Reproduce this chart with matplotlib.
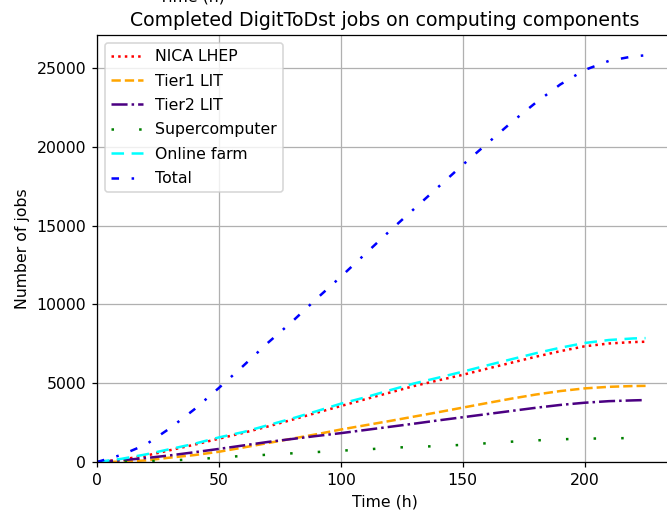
import matplotlib

matplotlib.use("Agg")
import matplotlib.pyplot as plt

# time axis (hours)
hours = [0, 10, 20, 30, 40, 50, 60, 70, 80, 90, 100, 110, 120, 130, 140,
         150, 160, 170, 180, 190, 200, 210, 220, 225]

nica_lhep = [0, 150, 400, 750, 1100, 1480, 1850, 2250, 2680, 3120, 3550, 3980,
             4400, 4820, 5180, 5530, 5920, 6300, 6680, 7030, 7340, 7520, 7610, 7630]
tier1_lit = [0, 20, 100, 280, 440, 650, 920, 1200, 1480, 1760, 2060, 2330,
             2600, 2880, 3160, 3450, 3740, 4020, 4280, 4500, 4670, 4770, 4820, 4830]
tier2_lit = [0, 110, 250, 420, 620, 830, 1050, 1270, 1460, 1650, 1830, 2030,
             2230, 2430, 2640, 2840, 3040, 3240, 3440, 3620, 3760, 3860, 3910, 3930]
supercomputer = [0, 10, 40, 100, 170, 280, 390, 460, 550, 630, 720, 790,
                 900, 960, 1010, 1090, 1190, 1290, 1370, 1440, 1480, 1500, 1520, 1520]
online_farm = [0, 200, 480, 820, 1160, 1560, 1900, 2330, 2760, 3220, 3700, 4100,
               4550, 4980, 5350, 5730, 6130, 6520, 6900, 7250, 7550, 7740, 7840, 7860]
total = [0, 450, 1100, 2150, 3350, 4700, 6100, 7550, 8900, 10350, 11750, 13200,
         14650, 16050, 17450, 18850, 20200, 21550, 22800, 23950, 24870, 25450, 25740, 25800]

series = [
    ("NICA LHEP", nica_lhep, "red", ":"),
    ("Tier1 LIT", tier1_lit, "orange", "--"),
    ("Tier2 LIT", tier2_lit, "indigo", "-."),
    ("Supercomputer", supercomputer, "green", (0, (1, 10))),
    ("Online farm", online_farm, "cyan", (0, (5, 3))),
    ("Total", total, "blue", (0, (3, 5, 1, 5))),
]

fig = plt.figure(figsize=(667 / 113, 510 / 113), dpi=113)
ax = fig.add_axes([97 / 667, 48 / 510, 576 / 667, 427 / 510])

for name, vals, color, ls in series:
    ax.plot(hours, vals, color=color, ls=ls, lw=1.6, label=name)

ax.set_xlim(0, 236.25)
ax.set_ylim(0, 27090)
ax.set_xticks([0, 50, 100, 150, 200])
ax.grid(True)
ax.set_xlabel("Time (h)")
ax.set_ylabel("Number of jobs")
ax.set_title("Completed DigitToDst jobs on computing components")
ax.legend(loc="upper left", labelspacing=0.6)

# xlabel of the panel above, cut off by the crop
fig.text(192 / 667, 1 - 2 / 510, "Time (h)", ha="center", va="baseline")

fig.savefig("out.png", dpi=113)
